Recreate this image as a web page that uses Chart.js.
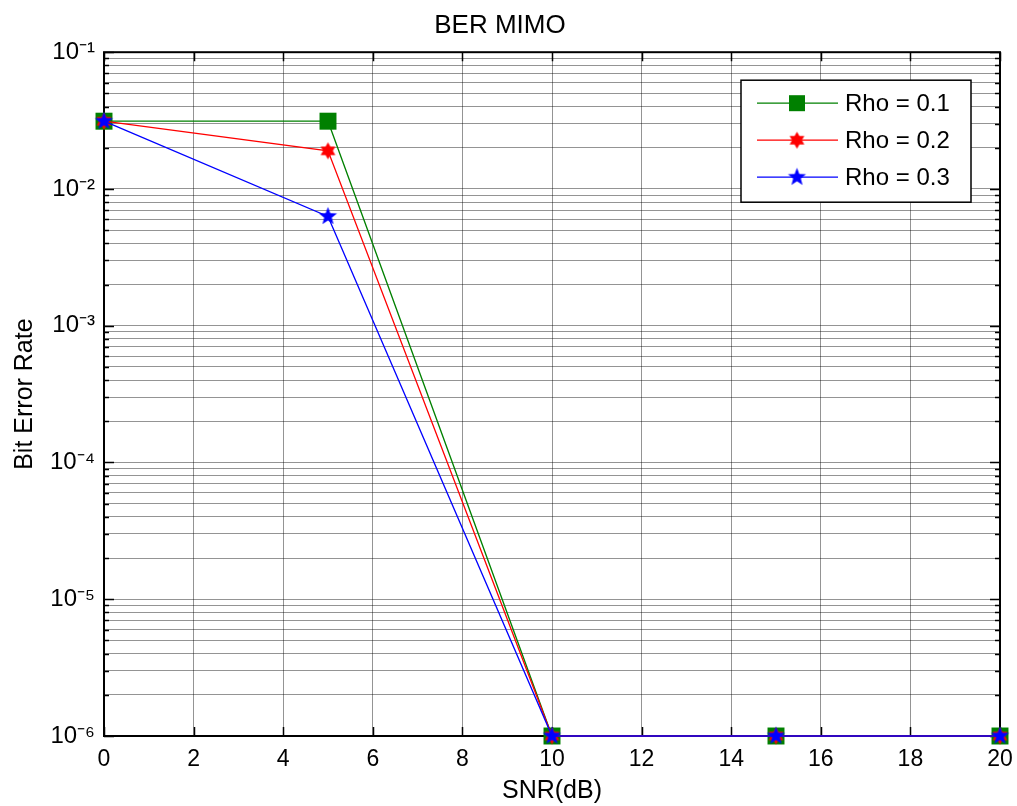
<!DOCTYPE html>
<html>
<head>
<meta charset="utf-8">
<title>BER MIMO</title>
<script src="https://cdn.jsdelivr.net/npm/chart.js@4.4.1/dist/chart.umd.min.js"></script>
<style>
  html, body { margin: 0; padding: 0; background: #fff; }
  #wrap { width: 1017px; height: 806px; }
</style>
</head>
<body>
<div id="wrap"><canvas id="ber" width="1017" height="806"></canvas></div>
<script>
// ---- data ----
const snr = [0, 5, 10, 15, 20];
const berRho01 = [0.0313, 0.0313, 1e-6, 1e-6, 1e-6];
const berRho02 = [0.0313, 0.0190, 1e-6, 1e-6, 1e-6];
const berRho03 = [0.0313, 0.0063, 1e-6, 1e-6, 1e-6];
const seriesLabels = ["Rho = 0.1", "Rho = 0.2", "Rho = 0.3"];
const decades = [-6, -5, -4, -3, -2, -1];
const xTicks = [0, 2, 4, 6, 8, 10, 12, 14, 16, 18, 20];

const FONT = "'Liberation Sans', Arial, Helvetica, sans-serif";
const SUP = { "-": "\u207B", "0": "\u2070", "1": "\u00B9", "2": "\u00B2", "3": "\u00B3",
              "4": "\u2074", "5": "\u2075", "6": "\u2076", "7": "\u2077", "8": "\u2078", "9": "\u2079" };

// filled star markers (hexagram / pentagram like matlab)
function starMarker(n, outer, inner, color) {
    const c = document.createElement("canvas");
    const s = Math.ceil(outer * 2) + 2;
    c.width = c.height = s;
    const g = c.getContext("2d");
    g.beginPath();
    for (let k = 0; k < 2 * n; k++) {
        const r = k % 2 ? inner : outer;
        const a = -Math.PI / 2 + k * Math.PI / n;
        g.lineTo(s / 2 + r * Math.cos(a), s / 2 + r * Math.sin(a));
    }
    g.closePath();
    g.fillStyle = color;
    g.fill();
    return c;
}

const hexa = starMarker(6, 8.5, 4.9, "#ff0000");
const penta = starMarker(5, 9.5, 4.0, "#0000ff");

function pts(ys) {
    return snr.map((x, i) => ({ x: x, y: ys[i] }));
}

// log ticks 1..9 per decade
function logTicks() {
    const t = [];
    for (let i = 0; i < decades.length; i++) {
        const e = decades[i];
        if (i === decades.length - 1) { t.push({ value: Math.pow(10, e) }); break; }
        for (let m = 1; m <= 9; m++) t.push({ value: Number((m * Math.pow(10, e)).toPrecision(3)) });
    }
    return t;
}

function isDecade(v) {
    const l = Math.log10(v);
    return Math.abs(l - Math.round(l)) < 1e-9;
}

/* ---------- axes box + inside ticks ---------- */
const axesBox = {
    id: "axesBox",
    beforeDatasetsDraw(chart) {
        const ctx = chart.ctx, a = chart.chartArea;
        const ys = chart.scales.y, xs = chart.scales.x;
        ctx.save();
        ctx.strokeStyle = "#000";
        ctx.lineWidth = 1.5;
        ctx.beginPath();
        ys.ticks.forEach(t => {
            const y = Math.round(ys.getPixelForValue(t.value)) + 0.5;
            const len = isDecade(t.value) ? 10 : 5;
            ctx.moveTo(a.left, y); ctx.lineTo(a.left + len, y);
            ctx.moveTo(a.right, y); ctx.lineTo(a.right - len, y);
        });
        xs.ticks.forEach(t => {
            const x = Math.round(xs.getPixelForValue(t.value)) + 0.5;
            ctx.moveTo(x, a.bottom); ctx.lineTo(x, a.bottom - 9);
            ctx.moveTo(x, a.top); ctx.lineTo(x, a.top + 9);
        });
        ctx.stroke();
        ctx.lineWidth = 2;
        ctx.strokeRect(a.left, a.top, a.right - a.left, a.bottom - a.top);
        ctx.restore();
    }
};

/* ---------- legend inside the axes ---------- */
const legendBox = {
    id: "legendBox",
    afterDraw(chart) {
        const ctx = chart.ctx, a = chart.chartArea;
        const w = 230, h = 122, rowH = 37;
        const x0 = a.right - 29 - w;
        const y0 = a.top + 28;
        ctx.save();
        ctx.fillStyle = "#fff";
        ctx.fillRect(x0, y0, w, h);
        ctx.strokeStyle = "#000";
        ctx.lineWidth = 1.5;
        ctx.strokeRect(x0, y0, w, h);
        chart.data.datasets.forEach((ds, i) => {
            const y = y0 + 23 + i * rowH;
            ctx.strokeStyle = ds.borderColor;
            ctx.lineWidth = ds.borderWidth;
            ctx.beginPath();
            ctx.moveTo(x0 + 16, y); ctx.lineTo(x0 + 97, y);
            ctx.stroke();
            const mx = x0 + 56;
            if (ds.pointStyle === "rect") {
                ctx.fillStyle = ds.pointBackgroundColor;
                ctx.fillRect(mx - 8, y - 8, 16, 16);
            } else {
                const img = ds.pointStyle;
                ctx.drawImage(img, mx - img.width / 2, y - img.height / 2);
            }
            ctx.fillStyle = "#000";
            ctx.font = "24px " + FONT;
            ctx.textBaseline = "middle";
            ctx.textAlign = "left";
            ctx.fillText(ds.label, x0 + 104, y + 1);
        });
        ctx.restore();
    }
};

const gridColor = "rgba(0,0,0,0.42)";

new Chart(document.getElementById("ber"), {
    type: "line",
    data: {
        datasets: [
            {
                label: seriesLabels[0], data: pts(berRho01),
                borderColor: "#008000", borderWidth: 1.3,
                pointStyle: "rect", pointRadius: 12, pointBackgroundColor: "#008000",
                pointBorderColor: "#008000", pointBorderWidth: 0,
                clip: false, order: 3
            },
            {
                label: seriesLabels[1], data: pts(berRho02),
                borderColor: "#ff0000", borderWidth: 1.3,
                pointStyle: hexa, pointRadius: 9,
                clip: false, order: 2
            },
            {
                label: seriesLabels[2], data: pts(berRho03),
                borderColor: "#0000ff", borderWidth: 1.3,
                pointStyle: penta, pointRadius: 9,
                clip: false, order: 1
            }
        ]
    },
    options: {
        responsive: false,
        animation: false,
        devicePixelRatio: 1,
        layout: { padding: { left: 0, right: 17, top: 0, bottom: 0 } },
        plugins: {
            legend: { display: false },
            tooltip: { enabled: false },
            title: {
                display: true,
                text: "BER MIMO",
                color: "#000",
                font: { family: FONT, size: 26, weight: "normal" },
                padding: { top: 10, bottom: 11 }
            }
        },
        scales: {
            x: {
                type: "linear",
                min: 0, max: 20,
                afterBuildTicks: s => { s.ticks = xTicks.map(v => ({ value: v })); },
                ticks: {
                    color: "#000", padding: 10,
                    font: { family: FONT, size: 23 }
                },
                grid: { color: gridColor, lineWidth: 1, drawTicks: false },
                border: { display: false },
                title: {
                    display: true, text: "SNR(dB)", color: "#000",
                    font: { family: FONT, size: 25 },
                    padding: { top: 0, bottom: 0 }
                },
                afterFit: s => { s.height = 70; s.paddingLeft = 0; s.paddingRight = 0; }
            },
            y: {
                type: "logarithmic",
                min: 1e-6, max: 1e-1,
                afterBuildTicks: s => { s.ticks = logTicks(); },
                ticks: {
                    color: "#000", padding: 9, autoSkip: false,
                    font: { family: FONT, size: 24 },
                    callback: v => {
                        if (!isDecade(v)) return "";
                        const e = String(Math.round(Math.log10(v)));
                        return "10" + e.split("").map(ch => SUP[ch]).join("");
                    }
                },
                grid: { color: gridColor, lineWidth: 1, drawTicks: false },
                border: { display: false },
                title: {
                    display: true, text: "Bit Error Rate", color: "#000",
                    font: { family: FONT, size: 25 },
                    padding: { top: 10, bottom: 0 }
                },
                afterFit: s => { s.width = 104; }
            }
        }
    },
    plugins: [axesBox, legendBox]
});
</script>
</body>
</html>
